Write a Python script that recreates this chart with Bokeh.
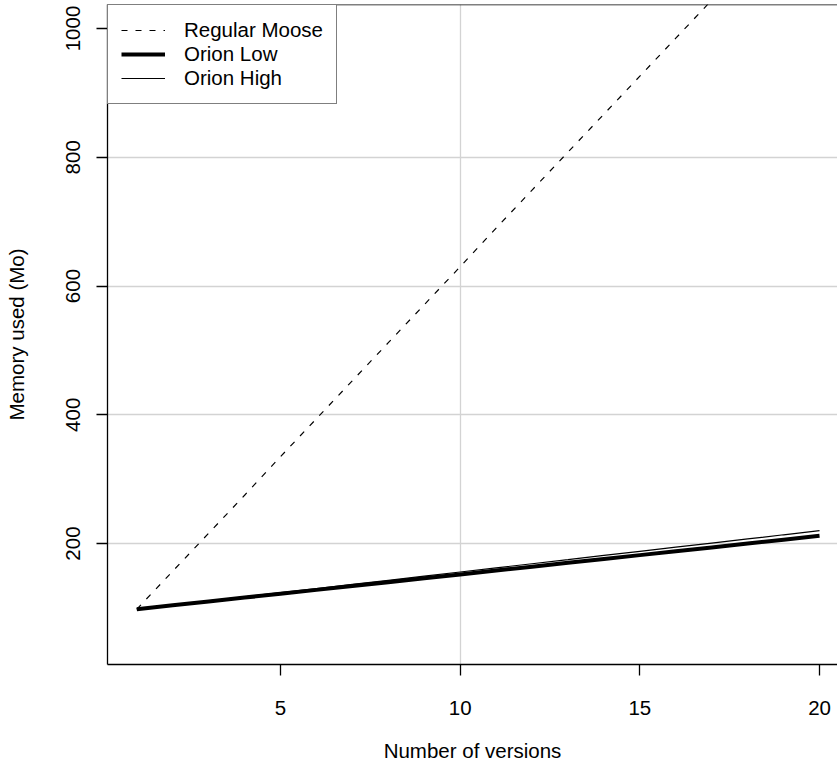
from bokeh.plotting import figure
from bokeh.models import FixedTicker, Span, Range1d, Legend, LegendItem
from bokeh.embed import file_html
from bokeh.resources import INLINE

versions = list(range(1, 21))
regular_moose = [98, 157, 216, 275, 335, 394, 453, 512, 571, 630,
                 690, 749, 808, 867, 926, 985, 1044, 1104, 1163, 1222]
orion_low = [98, 104, 110, 116, 122, 128, 134, 140, 146, 152,
             158, 164, 170, 176, 182, 188, 194, 200, 206, 212]
orion_high = [98, 104.4, 110.8, 117.3, 123.7, 130.1, 136.5, 142.9, 149.4, 155.8,
              162.2, 168.6, 175.0, 181.5, 187.9, 194.3, 200.7, 207.1, 213.6, 220]
x_ticks = [5, 10, 15, 20]
y_ticks = [200, 400, 600, 800, 1000]
y_grid = [200, 400, 600, 800]
x_grid = [10]

FONT = "Liberation Sans"
FS = "20.5px"
Y_TOP = 1037.3

p = figure(width=837, height=767, output_backend="svg", toolbar_location=None,
           x_range=Range1d(0.185, 20.5), y_range=Range1d(12.1, Y_TOP),
           min_border_left=107, min_border_right=0, min_border_top=4,
           min_border_bottom=103)
p.outline_line_color = None
p.background_fill_color = "white"
p.border_fill_color = "white"

# grid
p.xgrid.ticker = FixedTicker(ticks=x_grid)
p.ygrid.ticker = FixedTicker(ticks=y_grid)
for g in (p.xgrid, p.ygrid):
    g.grid_line_color = "#d3d3d3"
    g.grid_line_width = 1.3

# top border of the box
p.add_layout(Span(location=Y_TOP, dimension="width", line_color="black", line_width=1.5))

# axes
p.xaxis.ticker = FixedTicker(ticks=x_ticks)
p.yaxis.ticker = FixedTicker(ticks=y_ticks)
for ax in (p.xaxis[0], p.yaxis[0]):
    ax.axis_line_color = "black"
    ax.axis_line_width = 1.3
    ax.major_tick_line_color = "black"
    ax.major_tick_line_width = 1.3
    ax.major_tick_out = 11
    ax.major_tick_in = 0
    ax.minor_tick_line_color = None
    ax.major_label_text_font = FONT
    ax.major_label_text_font_size = FS
    ax.major_label_text_color = "black"
    ax.axis_label_text_font = FONT
    ax.axis_label_text_font_size = FS
    ax.axis_label_text_font_style = "normal"
    ax.axis_label_text_color = "black"
p.xaxis.axis_label = "Number of versions"
p.yaxis.axis_label = "Memory used (Mo)"
p.xaxis.major_label_standoff = 25
p.xaxis.axis_label_standoff = 21
p.yaxis.major_label_orientation = "vertical"
p.yaxis.major_label_standoff = 16
p.yaxis.axis_label_standoff = 36

r1 = p.line(versions, regular_moose, line_color="black", line_width=1.2, line_dash="6 8")
r2 = p.line(versions, orion_low, line_color="black", line_width=4)
r3 = p.line(versions, orion_high, line_color="black", line_width=1.2)

legend = Legend(items=[LegendItem(label="Regular Moose", renderers=[r1]),
                       LegendItem(label="Orion Low", renderers=[r2]),
                       LegendItem(label="Orion High", renderers=[r3])],
                location="top_left")
legend.margin = 0
legend.padding = 13
legend.spacing = 0
legend.glyph_width = 44
legend.glyph_height = 24
legend.label_height = 24
legend.label_standoff = 19
legend.label_text_font = FONT
legend.label_text_font_size = FS
legend.label_text_color = "black"
legend.border_line_color = "black"
legend.border_line_width = 1.3
legend.background_fill_color = "white"
legend.background_fill_alpha = 1
p.add_layout(legend)

open("out.html", "w").write(file_html(p, INLINE))
